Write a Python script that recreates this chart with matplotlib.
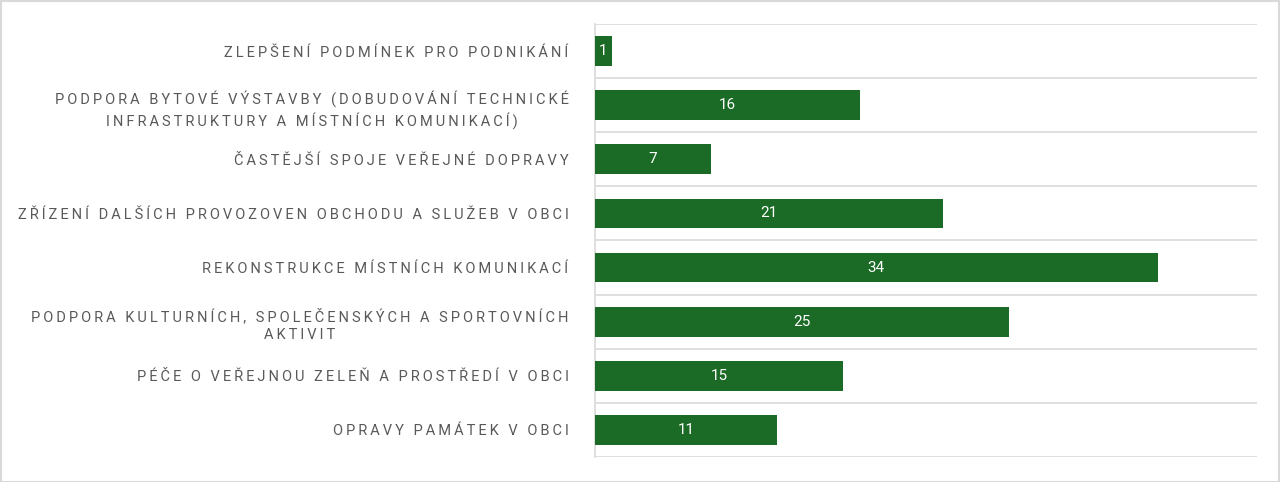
import numpy as np
import matplotlib.pyplot as plt

# data, top to bottom as in the picture
categories = [
    "ZLEPŠENÍ PODMÍNEK PRO PODNIKÁNÍ",
    "PODPORA BYTOVÉ VÝSTAVBY (DOBUDOVÁNÍ TECHNICKÉ\nINFRASTRUKTURY A MÍSTNÍCH KOMUNIKACÍ)",
    "ČASTĚJŠÍ SPOJE VEŘEJNÉ DOPRAVY",
    "ZŘÍZENÍ DALŠÍCH PROVOZOVEN OBCHODU A SLUŽEB V OBCI",
    "REKONSTRUKCE MÍSTNÍCH KOMUNIKACÍ",
    "PODPORA KULTURNÍCH, SPOLEČENSKÝCH A SPORTOVNÍCH\nAKTIVIT",
    "PÉČE O VEŘEJNOU ZELEŇ A PROSTŘEDÍ V OBCI",
    "OPRAVY PAMÁTEK V OBCI",
]
values = [1, 16, 7, 21, 34, 25, 15, 11]

bar_color = "#1b6b26"
grid_color = "#d9d9d9"
label_color = "#595959"


def spaced(text, gap="\u2009"):
    # fake letter spacing with thin spaces
    return "\n".join(gap.join(line) for line in text.split("\n"))


fig = plt.figure(figsize=(12.8, 4.82), dpi=100)
ax = fig.add_axes([595 / 1280, 25 / 482, (1257 - 595) / 1280, (458 - 25) / 482])

y = np.arange(len(categories))
bars = ax.barh(y, values, height=0.55, color=bar_color, zorder=3)

ax.set_xlim(0, 40)
ax.set_ylim(len(categories) - 0.5, -0.5)

# gridlines between categories
for b in np.arange(-0.5, len(categories) + 0.5, 1):
    ax.axhline(b, color=grid_color, lw=1.2, zorder=1)

ax.set_yticks(y)
ax.set_yticklabels([spaced(c) for c in categories],
                   family=["Roboto", "DejaVu Sans"], fontsize=10.5,
                   color=label_color, multialignment="center", linespacing=1.4)
ax.tick_params(axis="y", length=0, pad=19)
ax.set_xticks([])

for s in ["top", "right", "bottom"]:
    ax.spines[s].set_visible(False)
ax.spines["left"].set_color(grid_color)
ax.spines["left"].set_linewidth(1.2)

for bar, v in zip(bars, values):
    ax.text(bar.get_width() / 2, bar.get_y() + bar.get_height() / 2, str(v),
            ha="center", va="center", color="white", fontsize=11,
            family=["Roboto", "DejaVu Sans"], zorder=4)

# light border round the figure
fig.patches.append(plt.Rectangle((0.001, 0.001), 0.998, 0.997, transform=fig.transFigure,
                                 fill=False, edgecolor=grid_color, lw=1.5))

fig.savefig("out.png", dpi=100, facecolor="white")
